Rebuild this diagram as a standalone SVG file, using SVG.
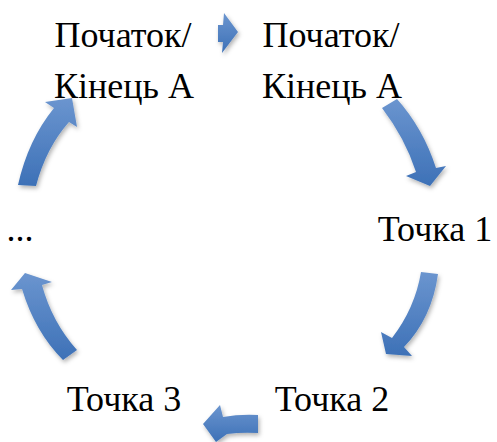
<svg xmlns="http://www.w3.org/2000/svg" width="497" height="442" viewBox="0 0 497 442">
  <style>
    .lbl { font-family: "Liberation Serif", "Times New Roman", serif; font-size: 36px; fill: #000; text-anchor: middle; }
    .arr { fill: url(#blue); filter: url(#shadow); }
  </style>
  <defs>
    <linearGradient id="blue" x1="0" y1="0" x2="0" y2="1">
      <stop offset="0" stop-color="#6b95cf"/>
      <stop offset="1" stop-color="#3d71b7"/>
    </linearGradient>
    <filter id="shadow" x="-30%" y="-30%" width="160%" height="160%">
      <feDropShadow dx="1.5" dy="2.5" stdDeviation="2" flood-color="#000" flood-opacity="0.3"/>
    </filter>
  </defs>
  <rect width="497" height="442" fill="#fff"/>

  <g id="connectors">
    <path class="arr" d="M218,25 L223,25 L224,13 L238,32 L222,53 L223,42 L218,42 Z"/>
    <path class="arr" d="M382,108 L397,99 Q423,128 436,168 L446,166 L430,186 L406,176 L416,172 Q405,138 382,108 Z"/>
    <path class="arr" d="M421,272 L438,274 Q432,318 404,347 L412,356 L386,354 L381,332 L392,338 Q415,308 421,272 Z"/>
    <path class="arr" d="M258,415 L258,433 Q242,432 227,434 L216,442 L203,424 L220,405 L223,417 Q240,414 258,415 Z"/>
    <path class="arr" d="M77,350 L63,360 Q35,332 22,289 L11,290 L25,273 L52,282 L42,285 Q52,322 77,350 Z"/>
    <path class="arr" d="M18,185 L36,186 Q46,148 69,122 L77,127 L72,98 L45,102 L54,108 Q28,140 18,185 Z"/>
  </g>

  <g id="node-start-left">
    <text class="lbl" x="123" y="47">Початок/</text>
    <text class="lbl" x="124" y="98">Кінець А</text>
  </g>
  <g id="node-start-right">
    <text class="lbl" x="331" y="47">Початок/</text>
    <text class="lbl" x="332" y="98">Кінець А</text>
  </g>
  <g id="node-point1">
    <text class="lbl" x="435" y="241">Точка 1</text>
  </g>
  <g id="node-point2">
    <text class="lbl" x="332" y="411">Точка 2</text>
  </g>
  <g id="node-point3">
    <text class="lbl" x="124" y="411">Точка 3</text>
  </g>
  <g id="node-ellipsis">
    <text class="lbl" x="20" y="241">...</text>
  </g>
</svg>
